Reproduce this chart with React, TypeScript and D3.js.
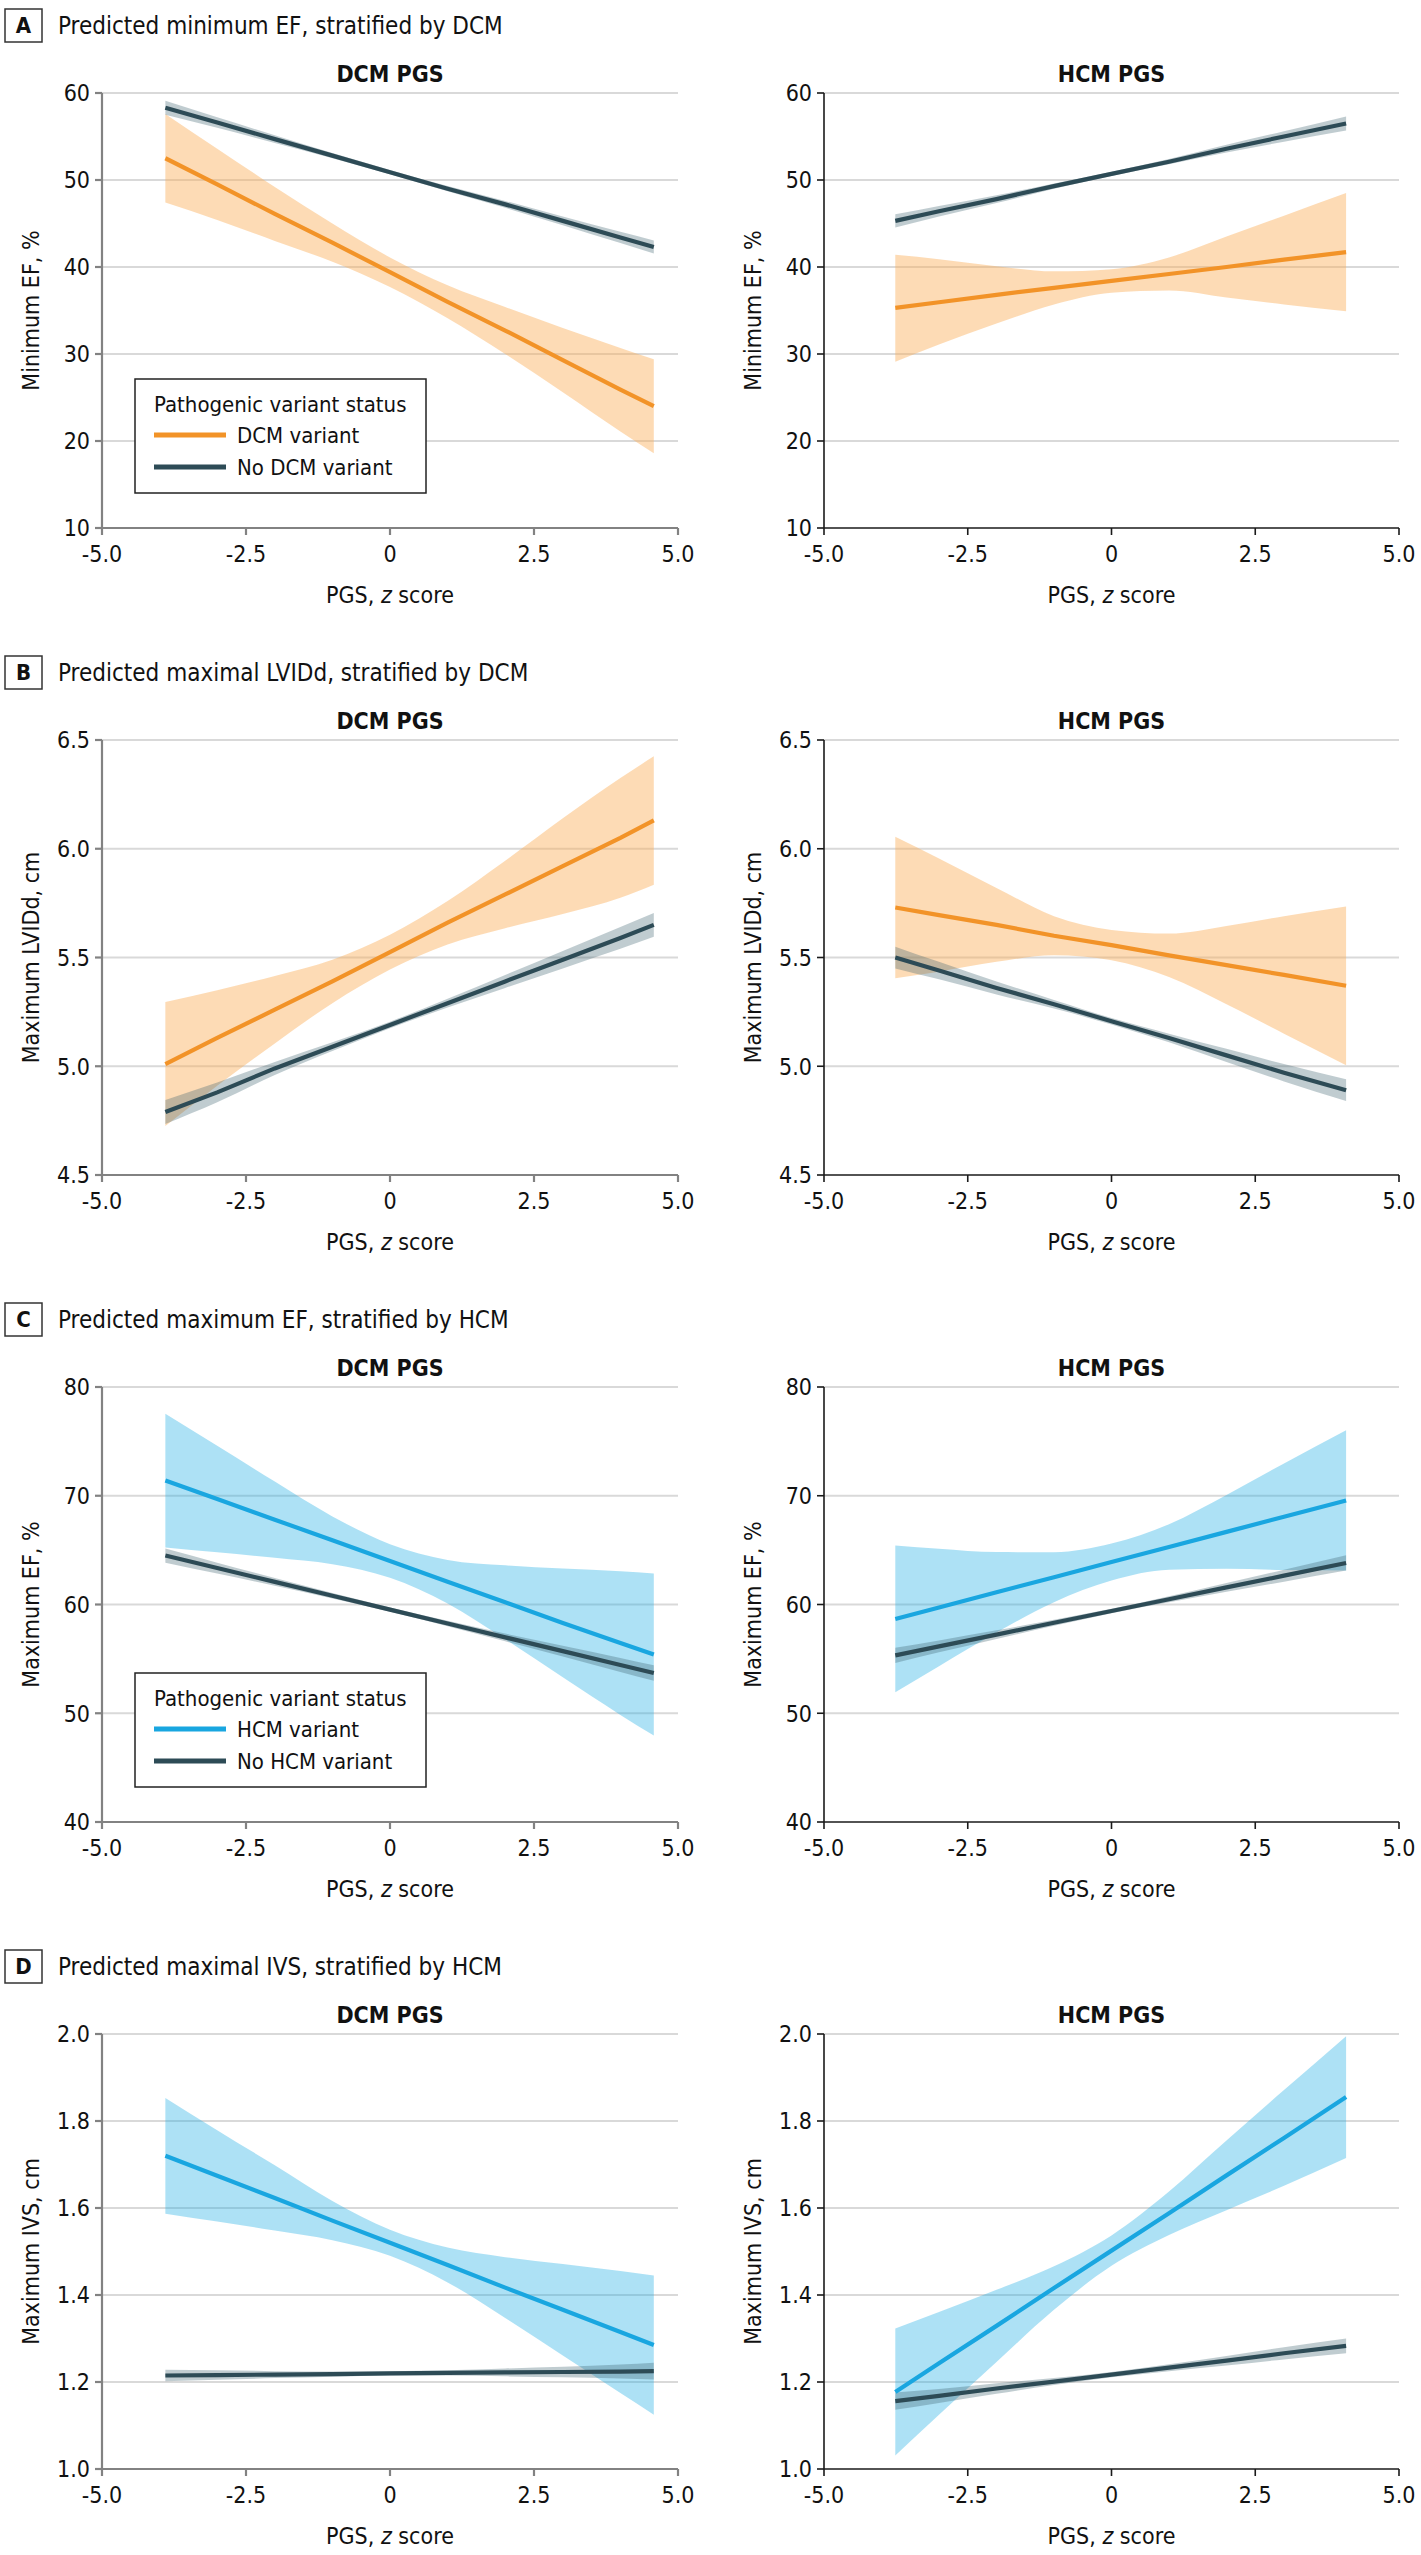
import { useEffect } from "react";
import * as d3 from "d3";

// x positions where the fitted curves were read (PGS z score)
const xDcm = [-3.9, -3, -2, -1, 0, 1, 2, 3, 4, 4.58];
const xHcm = [-3.76, -3, -2, -1, 0, 1, 2, 3, 4.08];

const xTicks = [-5, -2.5, 0, 2.5, 5];
const xTickLabels = ["-5.0", "-2.5", "0", "2.5", "5.0"];

// Panel A: minimum EF, stratified by DCM
const aDcmVarEst = [52.5, 49.5, 46.1, 42.8, 39.4, 36.0, 32.7, 29.3, 25.9, 24.0];
const aDcmVarLo = [47.4, 45.4, 43.0, 40.6, 37.7, 34.1, 30.0, 25.6, 21.1, 18.6];
const aDcmVarHi = [57.6, 53.6, 49.2, 45.0, 41.1, 37.9, 35.4, 33.0, 30.7, 29.4];
const aDcmNoEst = [58.3, 56.6, 54.7, 52.8, 50.9, 49.0, 47.2, 45.3, 43.4, 42.3];
const aDcmNoLo = [57.5, 56.0, 54.25, 52.5, 50.65, 48.7, 46.8, 44.8, 42.75, 41.55];
const aDcmNoHi = [59.1, 57.2, 55.15, 53.1, 51.15, 49.3, 47.6, 45.8, 44.05, 43.05];
const aHcmVarEst = [35.3, 35.95, 36.8, 37.6, 38.4, 39.2, 40.0, 40.85, 41.7];
const aHcmVarLo = [29.1, 31.1, 33.5, 35.7, 37.05, 37.3, 36.5, 35.7, 34.9];
const aHcmVarHi = [41.4, 40.9, 40.1, 39.5, 39.75, 41.1, 43.5, 45.9, 48.5];
const aHcmNoEst = [45.3, 46.4, 47.8, 49.3, 50.7, 52.1, 53.6, 55.0, 56.5];
const aHcmNoLo = [44.55, 45.8, 47.35, 49.0, 50.45, 51.8, 53.15, 54.4, 55.7];
const aHcmNoHi = [46.05, 47.0, 48.25, 49.6, 50.95, 52.4, 54.05, 55.6, 57.3];

// Panel B: maximal LVIDd, stratified by DCM
const bDcmVarEst = [5.01, 5.13, 5.26, 5.39, 5.525, 5.66, 5.79, 5.92, 6.05, 6.13];
const bDcmVarLo = [4.725, 4.91, 5.105, 5.29, 5.445, 5.56, 5.635, 5.7, 5.775, 5.835];
const bDcmVarHi = [5.295, 5.35, 5.415, 5.49, 5.605, 5.76, 5.945, 6.14, 6.325, 6.425];
const bDcmNoEst = [4.79, 4.88, 4.99, 5.09, 5.19, 5.29, 5.39, 5.49, 5.59, 5.65];
const bDcmNoLo = [4.735, 4.835, 4.96, 5.07, 5.175, 5.27, 5.36, 5.45, 5.54, 5.595];
const bDcmNoHi = [4.845, 4.925, 5.02, 5.11, 5.205, 5.31, 5.42, 5.53, 5.64, 5.705];
const bHcmVarEst = [5.73, 5.695, 5.65, 5.6, 5.557, 5.51, 5.465, 5.42, 5.37];
const bHcmVarLo = [5.405, 5.435, 5.48, 5.51, 5.487, 5.41, 5.285, 5.15, 5.005];
const bHcmVarHi = [6.055, 5.955, 5.82, 5.69, 5.627, 5.61, 5.645, 5.69, 5.735];
const bHcmNoEst = [5.5, 5.44, 5.36, 5.285, 5.207, 5.13, 5.05, 4.97, 4.89];
const bHcmNoLo = [5.45, 5.4, 5.33, 5.265, 5.192, 5.11, 5.02, 4.93, 4.84];
const bHcmNoHi = [5.55, 5.48, 5.39, 5.305, 5.222, 5.15, 5.08, 5.01, 4.94];

// Panel C: maximum EF, stratified by HCM
const cDcmVarEst = [71.4, 69.7, 67.8, 65.9, 64.0, 62.1, 60.2, 58.3, 56.45, 55.4];
const cDcmVarLo = [65.25, 64.8, 64.3, 63.7, 62.45, 60.1, 56.8, 53.3, 49.85, 47.95];
const cDcmVarHi = [77.55, 74.6, 71.3, 68.1, 65.55, 64.1, 63.6, 63.3, 63.05, 62.85];
const cDcmNoEst = [64.5, 63.35, 62.08, 60.8, 59.53, 58.26, 56.98, 55.71, 54.44, 53.7];
const cDcmNoLo = [63.85, 62.85, 61.73, 60.55, 59.33, 58.01, 56.63, 55.21, 53.79, 52.98];
const cDcmNoHi = [65.15, 63.85, 62.43, 61.05, 59.73, 58.51, 57.33, 56.21, 55.09, 54.42];
const cHcmVarEst = [58.67, 59.73, 61.12, 62.51, 63.9, 65.29, 66.68, 68.07, 69.57];
const cHcmVarLo = [51.92, 54.33, 57.42, 60.21, 62.2, 63.19, 63.28, 63.17, 63.12];
const cHcmVarHi = [65.42, 65.13, 64.82, 64.81, 65.6, 67.39, 70.08, 72.97, 76.02];
const cHcmNoEst = [55.32, 56.15, 57.23, 58.32, 59.4, 60.48, 61.57, 62.65, 63.82];
const cHcmNoLo = [54.62, 55.6, 56.83, 58.04, 59.2, 60.2, 61.17, 62.1, 63.12];
const cHcmNoHi = [56.02, 56.7, 57.63, 58.6, 59.6, 60.76, 61.97, 63.2, 64.52];

// Panel D: maximal IVS, stratified by HCM
const dDcmVarEst = [1.72, 1.674, 1.623, 1.571, 1.52, 1.469, 1.417, 1.366, 1.315, 1.285];
const dDcmVarLo = [1.587, 1.569, 1.548, 1.526, 1.49, 1.429, 1.347, 1.261, 1.175, 1.125];
const dDcmVarHi = [1.853, 1.779, 1.698, 1.616, 1.55, 1.509, 1.487, 1.471, 1.455, 1.445];
const dDcmNoEst = [1.215, 1.216, 1.217, 1.218, 1.22, 1.221, 1.222, 1.223, 1.224, 1.225];
const dDcmNoLo = [1.202, 1.205, 1.209, 1.212, 1.215, 1.215, 1.213, 1.211, 1.208, 1.206];
const dDcmNoHi = [1.228, 1.227, 1.225, 1.224, 1.225, 1.227, 1.231, 1.235, 1.24, 1.244];
const dHcmVarEst = [1.177, 1.243, 1.329, 1.416, 1.502, 1.588, 1.675, 1.761, 1.855];
const dHcmVarLo = [1.031, 1.125, 1.246, 1.366, 1.467, 1.538, 1.595, 1.651, 1.715];
const dHcmVarHi = [1.323, 1.361, 1.412, 1.466, 1.537, 1.638, 1.755, 1.871, 1.995];
const dHcmNoEst = [1.156, 1.168, 1.185, 1.201, 1.217, 1.233, 1.249, 1.266, 1.283];
const dHcmNoLo = [1.136, 1.152, 1.173, 1.193, 1.211, 1.225, 1.238, 1.252, 1.266];
const dHcmNoHi = [1.176, 1.184, 1.197, 1.209, 1.223, 1.241, 1.26, 1.28, 1.3];

const FONT = "'DejaVu Sans Condensed', 'DejaVu Sans', sans-serif";
const ORANGE = "#f29328";
const ORANGE_BAND = "rgba(250, 175, 90, 0.45)";
const BLUE = "#19a6e0";
const BLUE_BAND = "rgba(40, 175, 230, 0.38)";
const DARK = "#2d4b56";
const DARK_BAND = "rgba(60, 95, 110, 0.32)";

type Series = { x: number[]; est: number[]; lo: number[]; hi: number[] };

interface Row {
  letter: string;
  title: string;
  yLabel: string;
  yTicks: number[];
  yFmt: (d: number) => string;
  varColor: string;
  varBand: string;
  legend: string[] | null;
  left: [Series, Series];
  right: [Series, Series];
}

const rows: Row[] = [
  {
    letter: "A",
    title: "Predicted minimum EF, stratified by DCM",
    yLabel: "Minimum EF, %",
    yTicks: [10, 20, 30, 40, 50, 60],
    yFmt: (d) => String(d),
    varColor: ORANGE,
    varBand: ORANGE_BAND,
    legend: ["DCM variant", "No DCM variant"],
    left: [
      { x: xDcm, est: aDcmVarEst, lo: aDcmVarLo, hi: aDcmVarHi },
      { x: xDcm, est: aDcmNoEst, lo: aDcmNoLo, hi: aDcmNoHi },
    ],
    right: [
      { x: xHcm, est: aHcmVarEst, lo: aHcmVarLo, hi: aHcmVarHi },
      { x: xHcm, est: aHcmNoEst, lo: aHcmNoLo, hi: aHcmNoHi },
    ],
  },
  {
    letter: "B",
    title: "Predicted maximal LVIDd, stratified by DCM",
    yLabel: "Maximum LVIDd, cm",
    yTicks: [4.5, 5.0, 5.5, 6.0, 6.5],
    yFmt: d3.format(".1f"),
    varColor: ORANGE,
    varBand: ORANGE_BAND,
    legend: null,
    left: [
      { x: xDcm, est: bDcmVarEst, lo: bDcmVarLo, hi: bDcmVarHi },
      { x: xDcm, est: bDcmNoEst, lo: bDcmNoLo, hi: bDcmNoHi },
    ],
    right: [
      { x: xHcm, est: bHcmVarEst, lo: bHcmVarLo, hi: bHcmVarHi },
      { x: xHcm, est: bHcmNoEst, lo: bHcmNoLo, hi: bHcmNoHi },
    ],
  },
  {
    letter: "C",
    title: "Predicted maximum EF, stratified by HCM",
    yLabel: "Maximum EF, %",
    yTicks: [40, 50, 60, 70, 80],
    yFmt: (d) => String(d),
    varColor: BLUE,
    varBand: BLUE_BAND,
    legend: ["HCM variant", "No HCM variant"],
    left: [
      { x: xDcm, est: cDcmVarEst, lo: cDcmVarLo, hi: cDcmVarHi },
      { x: xDcm, est: cDcmNoEst, lo: cDcmNoLo, hi: cDcmNoHi },
    ],
    right: [
      { x: xHcm, est: cHcmVarEst, lo: cHcmVarLo, hi: cHcmVarHi },
      { x: xHcm, est: cHcmNoEst, lo: cHcmNoLo, hi: cHcmNoHi },
    ],
  },
  {
    letter: "D",
    title: "Predicted maximal IVS, stratified by HCM",
    yLabel: "Maximum IVS, cm",
    yTicks: [1.0, 1.2, 1.4, 1.6, 1.8, 2.0],
    yFmt: d3.format(".1f"),
    varColor: BLUE,
    varBand: BLUE_BAND,
    legend: null,
    left: [
      { x: xDcm, est: dDcmVarEst, lo: dDcmVarLo, hi: dDcmVarHi },
      { x: xDcm, est: dDcmNoEst, lo: dDcmNoLo, hi: dDcmNoHi },
    ],
    right: [
      { x: xHcm, est: dHcmVarEst, lo: dHcmVarLo, hi: dHcmVarHi },
      { x: xHcm, est: dHcmNoEst, lo: dHcmNoLo, hi: dHcmNoHi },
    ],
  },
];

const W = 1421;
const H = 2555;
const ROW_STEP = 647;
const FIRST_TOP = 93;
const PLOT_H = 435;
const panelsX = [
  { x0: 102, x1: 678, facet: "DCM PGS", axisColor: "#828282", axisW: 2.2 },
  { x0: 824, x1: 1399, facet: "HCM PGS", axisColor: "#1a1a1a", axisW: 1.6 },
];

function Panel({
  row,
  side,
  top,
}: {
  row: Row;
  side: 0 | 1;
  top: number;
}) {
  const p = panelsX[side];
  const x = d3.scaleLinear().domain([-5, 5]).range([p.x0, p.x1]);
  const yDom = d3.extent(row.yTicks) as [number, number];
  const y = d3.scaleLinear().domain(yDom).range([top + PLOT_H, top]);
  const series = side === 0 ? row.left : row.right;

  const area = (s: Series) =>
    d3
      .area<number>()
      .x((_, i) => x(s.x[i]))
      .y0((_, i) => y(s.lo[i]))
      .y1((_, i) => y(s.hi[i]))
      .curve(d3.curveMonotoneX)(s.est) || "";
  const line = (s: Series) =>
    d3
      .line<number>()
      .x((_, i) => x(s.x[i]))
      .y((d) => y(d))(s.est) || "";

  const bottom = top + PLOT_H;
  const midY = top + PLOT_H / 2;
  const cx = (p.x0 + p.x1) / 2;

  return (
    <g>
      {/* gridlines */}
      {row.yTicks.slice(1).map((t) => (
        <line key={t} x1={p.x0} x2={p.x1} y1={y(t)} y2={y(t)} stroke="#d9d9d9" strokeWidth={2} />
      ))}
      {/* bands then lines */}
      <path d={area(series[0])} fill={row.varBand} />
      <path d={area(series[1])} fill={DARK_BAND} />
      <path d={line(series[1])} fill="none" stroke={DARK} strokeWidth={4.2} />
      <path d={line(series[0])} fill="none" stroke={row.varColor} strokeWidth={4.2} />

      {/* axes */}
      <line x1={p.x0} x2={p.x0} y1={top} y2={bottom} stroke={p.axisColor} strokeWidth={p.axisW} />
      <line x1={p.x0} x2={p.x1} y1={bottom} y2={bottom} stroke={p.axisColor} strokeWidth={p.axisW} />
      {row.yTicks.map((t) => (
        <g key={t}>
          <line x1={p.x0 - 7} x2={p.x0} y1={y(t)} y2={y(t)} stroke={p.axisColor} strokeWidth={p.axisW} />
          <text
            x={p.x0 - 12}
            y={y(t)}
            dy="0.36em"
            textAnchor="end"
            fontSize={23}
            fill="#111"
          >
            {row.yFmt(t)}
          </text>
        </g>
      ))}
      {xTicks.map((t, i) => (
        <g key={t}>
          <line x1={x(t)} x2={x(t)} y1={bottom} y2={bottom + 7} stroke={p.axisColor} strokeWidth={p.axisW} />
          <text x={x(t)} y={bottom + 34} textAnchor="middle" fontSize={23} fill="#111">
            {xTickLabels[i]}
          </text>
        </g>
      ))}

      {/* labels */}
      <text x={cx} y={top - 11} textAnchor="middle" fontSize={23} fontWeight="bold" fill="#111">
        {p.facet}
      </text>
      <text x={cx} y={bottom + 75} textAnchor="middle" fontSize={23} fill="#111">
        PGS, <tspan fontStyle="italic">z</tspan> score
      </text>
      <text
        transform={`translate(${p.x0 - 71},${midY}) rotate(-90)`}
        textAnchor="middle"
        dy="0.35em"
        fontSize={23}
        fill="#111"
      >
        {row.yLabel}
      </text>

      {/* legend */}
      {side === 0 && row.legend && (
        <g transform={`translate(${p.x0 + 33},${top + 286})`}>
          <rect x={0} y={0} width={291} height={114} fill="#fff" stroke="#222" strokeWidth={1.5} />
          <text x={19} y={33} fontSize={22} fill="#111">
            Pathogenic variant status
          </text>
          <line x1={19} x2={91} y1={56} y2={56} stroke={row.varColor} strokeWidth={5} />
          <text x={102} y={64} fontSize={22} fill="#111">
            {row.legend[0]}
          </text>
          <line x1={19} x2={91} y1={88} y2={88} stroke={DARK} strokeWidth={5} />
          <text x={102} y={96} fontSize={22} fill="#111">
            {row.legend[1]}
          </text>
        </g>
      )}
    </g>
  );
}

export default function App() {
  useEffect(() => {
    document.body.style.margin = "0";
  }, []);

  return (
    <svg width={W} height={H} viewBox={`0 0 ${W} ${H}`} style={{ display: "block", background: "#fff" }} fontFamily={FONT}>
      <rect width={W} height={H} fill="#fff" />
      {rows.map((row, r) => {
        const top = FIRST_TOP + r * ROW_STEP;
        return (
          <g key={row.letter}>
            <rect x={5} y={top - 84} width={37} height={33} fill="#fff" stroke="#333" strokeWidth={1.5} />
            <text x={23.5} y={top - 67.5} dy="0.36em" textAnchor="middle" fontSize={22} fontWeight="bold" fill="#111">
              {row.letter}
            </text>
            <text x={58} y={top - 59} fontSize={24} fill="#111">
              {row.title}
            </text>
            <Panel row={row} side={0} top={top} />
            <Panel row={row} side={1} top={top} />
          </g>
        );
      })}
    </svg>
  );
}
